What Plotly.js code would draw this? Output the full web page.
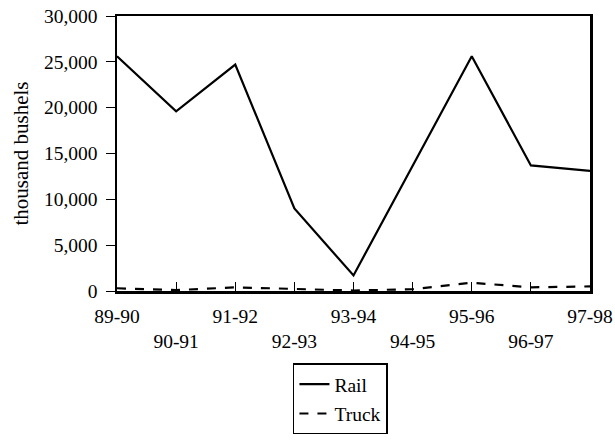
<!DOCTYPE html>
<html>
<head>
<meta charset="utf-8">
<script src="https://cdn.plot.ly/plotly-3.0.1.min.js"></script>
<style>html,body{margin:0;padding:0;background:#fff;}#chart{width:615px;height:447px;}</style>
</head>
<body>
<div id="chart"></div>
<script>
const categories = ['89-90','90-91','91-92','92-93','93-94','94-95','95-96','96-97','97-98'];
const railValues = [25600, 19600, 24700, 9000, 1700, 13700, 25600, 13700, 13100];
const truckValues = [300, 100, 400, 200, 50, 200, 900, 400, 500];
const yTickVals = [0, 5000, 10000, 15000, 20000, 25000, 30000];
const yTickText = ['0', '5,000', '10,000', '15,000', '20,000', '25,000', '30,000'];

const xIdx = categories.map((c, i) => i);
const xTickText = categories.map((c, i) => (i % 2 === 1 ? '<br>' + c : c));

const fam = 'Liberation Serif, Times New Roman, serif';
const font = {family: fam, size: 19.5, color: '#000'};

const traces = [
  {x: xIdx, y: railValues, name: 'Rail', mode: 'lines', type: 'scatter', legendgroup: 'a',
   line: {color: '#000', width: 2.2}},
  {x: xIdx, y: truckValues, name: 'Truck', mode: 'lines', type: 'scatter', legendgroup: 'b',
   line: {color: '#000', width: 2.2, dash: 'dash'}}
];

const layout = {
  width: 615, height: 447,
  margin: {l: 117, r: 25, t: 16, b: 154},
  paper_bgcolor: '#fff', plot_bgcolor: '#fff',
  font: font,
  showlegend: true,
  legend: {x: 0.372, y: -0.2635, xanchor: 'left', yanchor: 'top',
           bordercolor: '#000', borderwidth: 1.5, bgcolor: '#fff',
           font: font, traceorder: 'grouped', tracegroupgap: 1},
  xaxis: {
    range: [0, 8], tickmode: 'array', tickvals: xIdx, ticktext: xTickText,
    showgrid: false, zeroline: false, automargin: false,
    showline: true, mirror: true, linecolor: '#000', linewidth: 2.5,
    ticks: 'inside', ticklen: 9, tickwidth: 1, tickcolor: '#000',
    tickfont: font, tickangle: 0, ticklabelstandoff: 6
  },
  yaxis: {
    range: [0, 30000], tickmode: 'array', tickvals: yTickVals, ticktext: yTickText,
    showgrid: false, zeroline: false, automargin: false,
    showline: true, mirror: true, linecolor: '#000', linewidth: 2.5,
    ticks: 'outside', ticklen: 9, tickwidth: 1, tickcolor: '#000',
    tickfont: font, ticklabelstandoff: 4,
    title: {text: 'thousand bushels', font: {family: fam, size: 21, color: '#000'}, standoff: 10}
  }
};

Plotly.newPlot('chart', traces, layout, {displayModeBar: false, staticPlot: true});
</script>
</body>
</html>
